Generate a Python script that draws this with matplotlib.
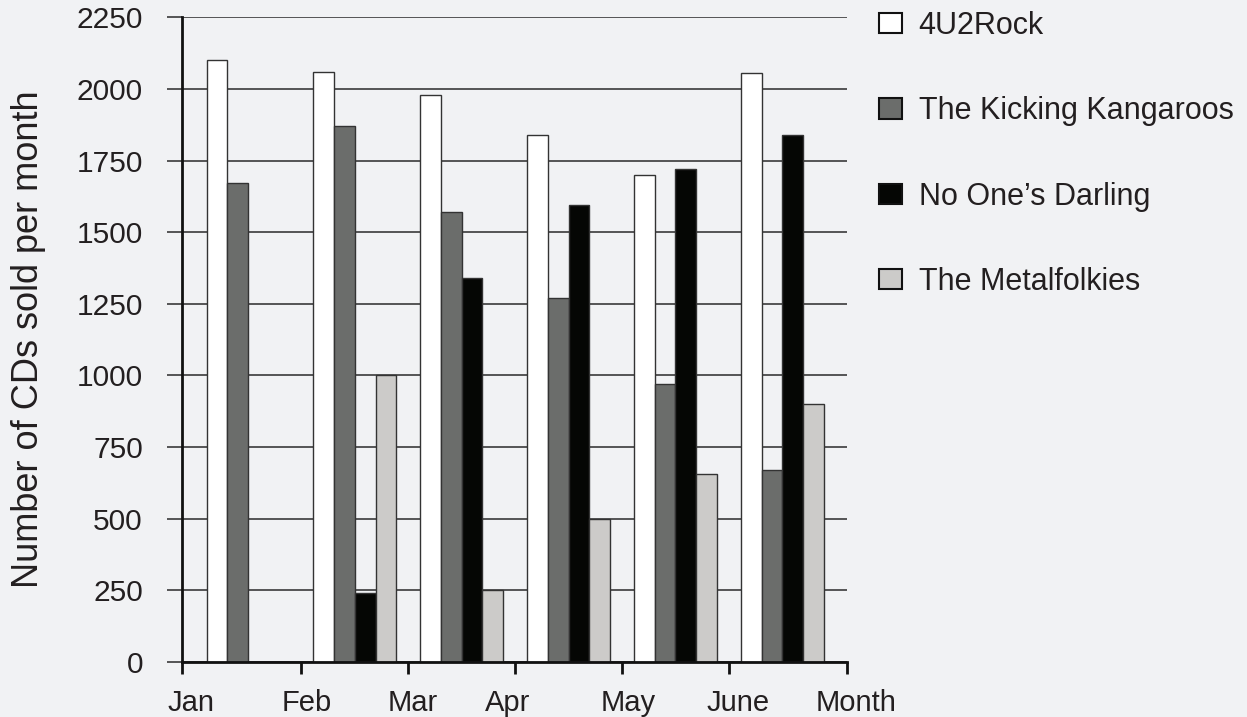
import numpy as np
import matplotlib.pyplot as plt
import matplotlib.transforms as mtransforms
from matplotlib.patches import Patch

plt.rcParams['font.family'] = ['Liberation Sans', 'DejaVu Sans']

months = ['Jan', 'Feb', 'Mar', 'Apr', 'May', 'June']
tick_labels = ['Jan', 'Feb', 'Mar', 'Apr', 'May', 'June', 'Month']
bands = ['4U2Rock', 'The Kicking Kangaroos', 'No One\u2019s Darling', 'The Metalfolkies']
rock = [2100, 2060, 1980, 1840, 1700, 2055]
kangaroos = [1670, 1870, 1570, 1270, 970, 670]
darling = [0, 240, 1340, 1595, 1720, 1840]
metalfolkies = [0, 1000, 250, 500, 655, 900]
colors = ['#ffffff', '#6b6d6b', '#050604', '#cccbc9']

bg = '#f1f2f4'
txt = '#231f20'

fig = plt.figure(figsize=(12.47, 7.17), dpi=100, facecolor=bg)
W, H = 1247, 717
left, right, top, bottom = 181.5, 847, 17.3, 662
ax = fig.add_axes([left / W, (H - bottom) / H, (right - left) / W, (bottom - top) / H])
ax.set_facecolor(bg)

x = np.arange(len(months))
w = 0.194
series = [rock, kangaroos, darling, metalfolkies]
for j, vals in enumerate(series):
    ax.bar(x + (j - 1.5) * w, vals, width=w, color=colors[j],
           edgecolor='#333333', linewidth=1, zorder=2)

xmin, xmax = -0.622, 5.605
ax.set_xlim(xmin, xmax)
ax.set_ylim(0, 2250)

ax.set_xticks([xmin] + list(x[:-1] + 0.5) + [xmax])
ax.set_xticklabels(tick_labels)
ax.set_yticks(np.arange(0, 2251, 250))

ax.yaxis.grid(True, color='#2a2a2a', linewidth=1.1)
ax.set_axisbelow(True)

for s in ['top', 'right']:
    ax.spines[s].set_visible(False)
for s in ['left', 'bottom']:
    ax.spines[s].set_linewidth(2)
    ax.spines[s].set_color('#111111')
    ax.spines[s].set_zorder(3)

ax.tick_params(axis='x', direction='out', length=8.6, width=2, color='#111111',
               pad=10.5, labelsize=21, labelcolor=txt)
ax.tick_params(axis='y', direction='out', length=10.8, width=1.1, color='#2a2a2a',
               pad=17, labelsize=21.5, labelcolor=txt)

# the month labels sit a little off their ticks in the original
shifts = [10, 5, 4, -8, 6, 9, 9]
for lab, dx in zip(ax.get_xticklabels(), shifts):
    lab.set_transform(lab.get_transform() +
                      mtransforms.ScaledTranslation(dx / 100, 0, fig.dpi_scale_trans))

ax.set_ylabel('Number of CDs sold per month', fontsize=26, color=txt, labelpad=22)

handles = [Patch(facecolor=c, edgecolor='#111111', linewidth=1.5) for c in colors]
fig.legend(handles, bands, loc='upper left', bbox_to_anchor=(879 / W, 1 - 11 / H),
           frameon=False, fontsize=22, labelcolor=txt, borderpad=0, borderaxespad=0,
           handlelength=0.75, handleheight=0.65, handletextpad=0.55,
           labelspacing=1.81)

fig.savefig('out.png', dpi=100, facecolor=bg)
